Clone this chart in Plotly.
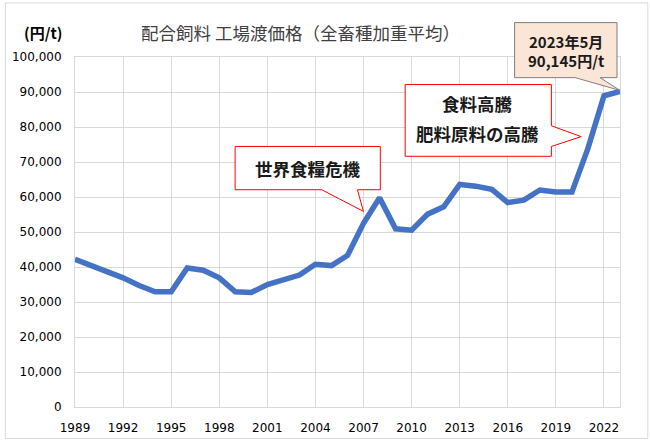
import plotly.graph_objects as go

# 配合飼料 工場渡価格（全畜種加重平均） 円/t
years = list(range(1989, 2024))
prices = [42200, 40500, 38800, 36900, 34700, 32900, 32900, 39700, 39100, 36900,
          32900, 32700, 35000, 36400, 37700, 40800, 40400, 43300, 52500, 59800,
          50900, 50500, 55100, 57200, 63600, 63100, 62200, 58400, 59100, 62000,
          61400, 61400, 73900, 88900, 90145]
x_ticks = list(range(1989, 2023, 3))

W, H = 650, 447
L, R, T, B = 72, 30, 57, 34
jp = "Noto Sans CJK JP"


def px(x, y):
    # page pixels -> paper coordinates
    return (x - L) / (W - L - R), (H - B - y) / (H - T - B)


def callout(points, fill, line):
    pts = [px(x, y) for x, y in points]
    path = "M " + " L ".join(f"{a:.4f},{b:.4f}" for a, b in pts) + " Z"
    return dict(type="path", xref="paper", yref="paper", path=path,
                fillcolor=fill, line=dict(color=line, width=1), layer="above")


fig = go.Figure()
fig.add_trace(go.Scatter(x=years, y=prices, mode="lines",
                         line=dict(color="#4472C4", width=5.5), showlegend=False))

shapes = [
    # outer frame
    dict(type="rect", xref="paper", yref="paper",
         x0=px(2, 0)[0], x1=px(648, 0)[0], y0=px(0, 445)[1], y1=px(0, 2)[1],
         line=dict(color="#d9d9d9", width=1), layer="below"),
    callout([(233, 148), (379, 148), (379, 192), (356, 192), (362, 214),
             (320, 192), (233, 192)], "white", "#FF0000"),
    callout([(404, 85), (551, 85), (551, 127), (581, 138), (551, 148),
             (551, 158), (404, 158)], "white", "#FF0000"),
    callout([(514, 22), (617, 22), (617, 78), (600, 78), (620, 91),
             (575, 78), (514, 78)], "#FBE5D6", "#7F7F7F"),
]

annos = [
    ("配合飼料 工場渡価格（全畜種加重平均）", 299, 32, 17.5, "#404040", False),
    ("(円/t)", 40, 32, 15, "#000000", True),
    ("世界食糧危機", 306, 170, 17.5, "#1a1a1a", True),
    ("食料高騰", 477, 104, 17.5, "#1a1a1a", True),
    ("肥料原料の高騰", 477, 135, 17.5, "#1a1a1a", True),
    ("2023年5月", 566, 41, 15, "#1a1a1a", True),
    ("90,145円/t", 566, 61, 15, "#1a1a1a", True),
]
annotations = []
for text, x, y, size, color, bold in annos:
    ax, ay = px(x, y)
    annotations.append(dict(text=f"<b>{text}</b>" if bold else text,
                            x=ax, y=ay, xref="paper", yref="paper",
                            showarrow=False, xanchor="center", yanchor="middle",
                            font=dict(family=jp, size=size, color=color)))

fig.update_layout(
    width=W, height=H,
    margin=dict(l=L, r=R, t=T, b=B),
    paper_bgcolor="white", plot_bgcolor="white",
    font=dict(family="DejaVu Sans", size=12, color="#000000"),
    shapes=shapes, annotations=annotations,
)
fig.update_xaxes(range=[1989, 2023], tickvals=x_ticks, showgrid=True,
                 gridcolor="#d9d9d9", gridwidth=1, showline=True, mirror=True,
                 linecolor="#d9d9d9", linewidth=1, ticks="", zeroline=False,
                 tickfont=dict(size=12), ticklabelstandoff=10)
fig.update_yaxes(range=[0, 100000], dtick=10000, tickformat=",d", showgrid=True,
                 gridcolor="#d9d9d9", gridwidth=1, showline=True, mirror=True,
                 linecolor="#d9d9d9", linewidth=1, ticks="", zeroline=False,
                 tickfont=dict(size=12), ticklabelstandoff=10)

fig.write_html("out.html", config={"displayModeBar": False},
               post_script="document.body.style.margin='0';")
